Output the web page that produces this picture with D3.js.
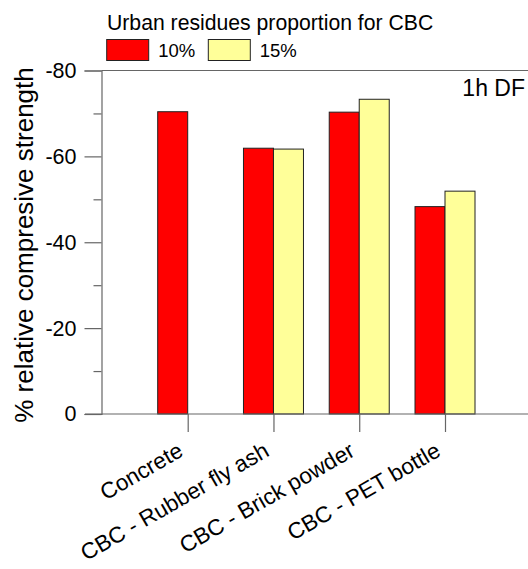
<!DOCTYPE html>
<html><head><meta charset="utf-8">
<script src="https://cdn.jsdelivr.net/npm/d3@7"></script>
<style>body{margin:0;background:#fff}svg{display:block;font-family:"Liberation Sans",Arial,sans-serif}</style>
</head><body>
<svg id="c" width="528" height="569"></svg>
<script>
const categories = ["Concrete", "CBC - Rubber fly ash", "CBC - Brick powder", "CBC - PET bottle"];
const seriesNames = ["10%", "15%"];
const values10 = [-70.4, -61.9, -70.3, -48.3];
const values15 = [null, -61.7, -73.3, -51.9];
const yTicks = [0, -20, -40, -60, -80];
const yMinorTicks = [-10, -30, -50, -70];
const colors = ["#ff0000", "#ffff99"];

const svg = d3.select("#c");
const y = d3.scaleLinear().domain([0, -80]).range([414, 70.5]);
const x = d3.scalePoint().domain(categories).range([187.7, 445]);
const bw = 30;
const axisColor = "#666";

// bars
const series = [values10, values15];
series.forEach((vals, si) => {
  svg.append("g").selectAll("rect").data(categories.map((c, i) => ({c, v: vals[i]})).filter(d => d.v != null))
    .join("rect")
    .attr("x", d => x(d.c) + (si === 0 ? -bw : 0))
    .attr("y", d => y(d.v))
    .attr("width", bw)
    .attr("height", d => y(0) - y(d.v))
    .attr("fill", colors[si])
    .attr("stroke", "#222")
    .attr("stroke-width", 1);
});

// frame lines
svg.append("line").attr("x1", 101.5).attr("x2", 528).attr("y1", y(-80)).attr("y2", y(-80)).attr("stroke", axisColor).attr("stroke-width", 1.2);

// y axis
const yAxis = svg.append("g").attr("transform", "translate(101.5,0)")
  .call(d3.axisLeft(y).tickValues(yTicks).tickSize(17).tickPadding(8).tickFormat(d3.format("d")));
yAxis.select(".domain").attr("stroke", axisColor).attr("stroke-width", 1.2);
yAxis.selectAll(".tick line").attr("stroke", axisColor).attr("stroke-width", 1.2);
yAxis.selectAll("text").attr("font-size", 21.5).attr("fill", "#000").attr("font-family", "Liberation Sans, Arial, sans-serif")
  .text(d => d === 0 ? "0" : "-" + Math.abs(d));
svg.append("g").attr("transform", "translate(101.5,0)")
  .call(d3.axisLeft(y).tickValues(yMinorTicks).tickSize(8).tickFormat(""))
  .call(g => { g.select(".domain").remove(); g.selectAll(".tick line").attr("stroke", axisColor).attr("stroke-width", 1.2); });

// x axis
const xAxis = svg.append("g").attr("transform", `translate(0,${y(0)})`)
  .call(d3.axisBottom(x).tickSize(18).tickFormat(""));
xAxis.select(".domain").remove();
xAxis.selectAll(".tick line").attr("stroke", axisColor).attr("stroke-width", 1.2);
svg.append("line").attr("x1", 85).attr("x2", 528).attr("y1", y(0)).attr("y2", y(0)).attr("stroke", axisColor).attr("stroke-width", 1.2);

svg.append("g").selectAll("text").data(categories).join("text")
  .attr("transform", d => `translate(${x(d) - 3},${455}) rotate(-30)`)
  .attr("text-anchor", "end")
  .attr("font-size", 22.5)
  .text(d => d);

// y title
svg.append("text").attr("transform", "translate(33,245) rotate(-90)")
  .attr("text-anchor", "middle").attr("font-size", 26)
  .text("% relative compresive strength");

// annotation
svg.append("text").attr("x", 525).attr("y", 96).attr("text-anchor", "end").attr("font-size", 23).text("1h DF");

// legend
svg.append("text").attr("x", 107).attr("y", 30).attr("font-size", 21.2).text("Urban residues proportion for CBC");
const legX = [106.7, 208.3];
seriesNames.forEach((s, i) => {
  svg.append("rect").attr("x", legX[i]).attr("y", 39.5).attr("width", 42).attr("height", 21)
    .attr("fill", colors[i]).attr("stroke", "#222").attr("stroke-width", 1);
  svg.append("text").attr("x", legX[i] + 51.5).attr("y", 57).attr("font-size", 18.5).text(s);
});
</script>
</body></html>
